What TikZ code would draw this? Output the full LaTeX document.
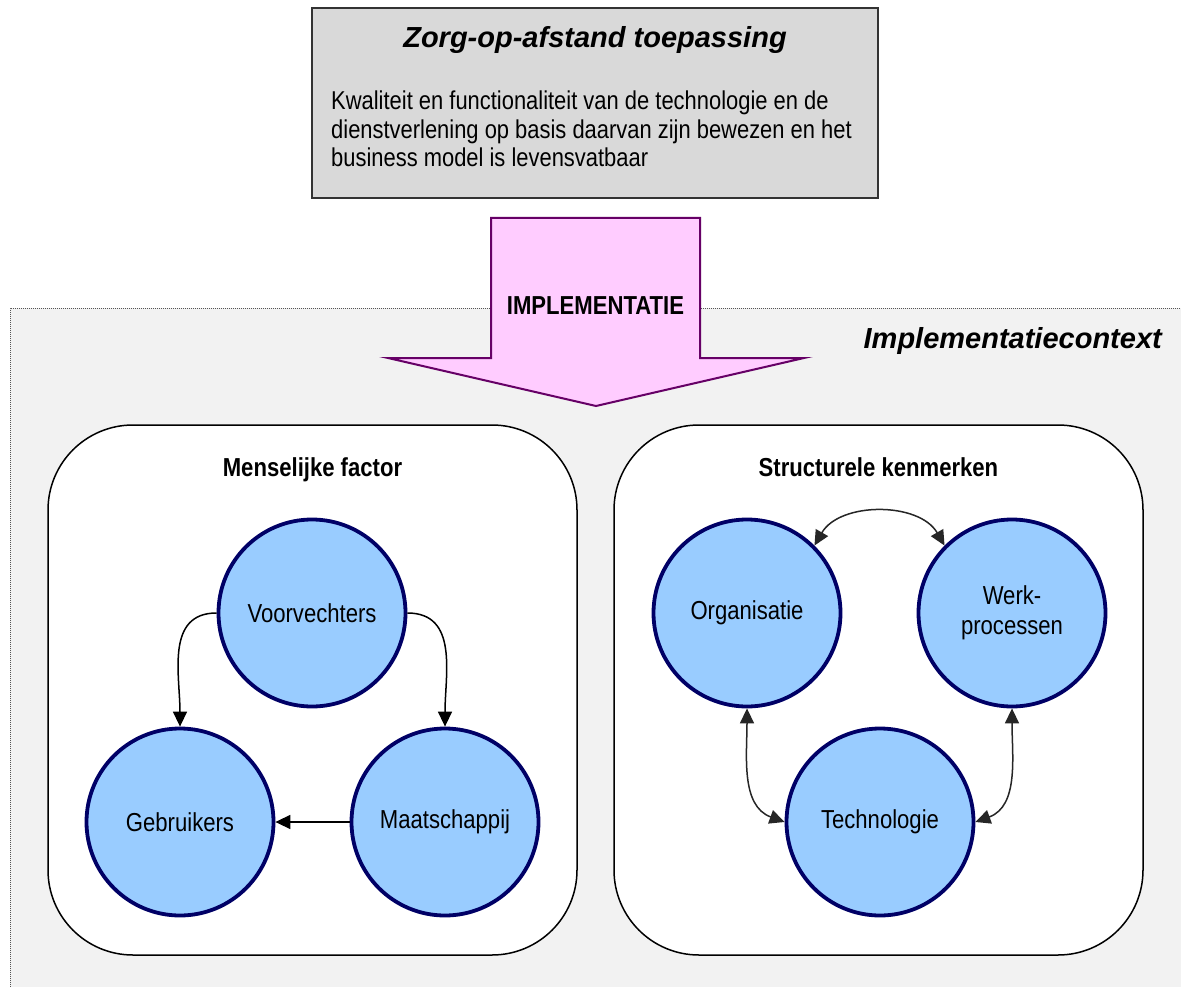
\documentclass[tikz,border=0pt]{standalone}
\usepackage{fontspec}
\setmainfont{Liberation Sans}
\newfontfamily\narrowsans[FakeStretch=0.85]{Liberation Sans}
\usetikzlibrary{arrows.meta}

\definecolor{ctxgray}{HTML}{F2F2F2}
\definecolor{ctxline}{HTML}{555555}
\definecolor{appgray}{HTML}{D9D9D9}
\definecolor{appborder}{HTML}{333333}
\definecolor{pinkfill}{HTML}{FFCCFF}
\definecolor{purpleline}{HTML}{660066}
\definecolor{circfill}{HTML}{99CCFF}
\definecolor{circline}{HTML}{000066}

\tikzset{
  tip/.tip={Triangle[length=15pt,width=14pt]},
  appbox/.style={draw=appborder, line width=2pt, fill=appgray, inner sep=0pt},
  titletext/.style={font=\bfseries\itshape\fontsize{29}{32}\selectfont, inner sep=0pt},
  bodytext/.style={font=\narrowsans\fontsize{25.8}{28.5}\selectfont, align=left, inner sep=0pt},
  implarrow/.style={draw=purpleline, line width=2pt, fill=pinkfill, line join=miter},
  arrowlabel/.style={font=\narrowsans\bfseries\fontsize{26}{30}\selectfont, inner sep=0pt},
  ctxborder/.style={draw=ctxline, line width=1pt, dash pattern=on 1pt off 1pt},
  group/.style={draw=black, line width=1.5pt, fill=white, rounded corners=85pt, inner sep=0pt},
  grouplabel/.style={font=\narrowsans\bfseries\fontsize{26}{30}\selectfont, inner sep=0pt},
  factor/.style={circle, draw=circline, line width=3.8pt, fill=circfill,
    minimum size=187pt, inner sep=0pt, align=center,
    font=\narrowsans\fontsize{26}{30}\selectfont},
  conn/.style={draw=black, line width=1.5pt, -tip},
  dconn/.style={draw=black!85, line width=1.5pt, tip-tip},
}

\begin{document}
\begin{tikzpicture}[x=1pt,y=1pt]
\useasboundingbox (0,0) rectangle (1181,-987);
\fill[white] (0,0) rectangle (1181,-987);

% implementation context area
\fill[ctxgray] (10,-308) rectangle (1181,-987);
\draw[ctxborder] (10,-987) -- (10,-308) -- (1181,-308);
\node[titletext, anchor=base east] (ctxlbl) at (1162,-348) {Implementatiecontext};

% application box
\node[appbox, minimum width=566pt, minimum height=190pt] (app) at (595,-103) {};
\node[titletext, anchor=base] (apptitle) at (595,-48) {Zorg-op-afstand toepassing};
\node[bodytext, anchor=base west] (appbody) at (331,-167)
  {Kwaliteit en functionaliteit van de technologie en de\\
   dienstverlening op basis daarvan zijn bewezen en het\\
   business model is levensvatbaar};

% implementation arrow
\draw[implarrow] (491,-218) -- (700,-218) -- (700,-358) -- (804,-358)
  -- (596,-406) -- (388,-358) -- (491,-358) -- cycle;
\node[arrowlabel, anchor=base] (impl) at (595.5,-314) {IMPLEMENTATIE};

% the two groups
\node[group, minimum width=529pt, minimum height=530pt] (human) at (312.5,-690) {};
\node[group, minimum width=529pt, minimum height=530pt] (struct) at (878.5,-690) {};
\node[grouplabel, anchor=base] (humanlbl) at (312.5,-476) {Menselijke factor};
\node[grouplabel, anchor=base] (structlbl) at (878.5,-476) {Structurele kenmerken};

% human factors
\node[factor] (voor) at (312,-613) {Voorvechters};
\node[factor] (gebr) at (180,-822) {Gebruikers};
\node[factor] (maat) at (445,-822) {Maatschappij};

% structural characteristics
\node[factor] (org) at (747,-613) {Organisatie};
\node[factor] (werk) at (1012,-613) {Werk-\\processen};
\node[factor] (tech) at (880,-822) {Technologie};

% connectors
\draw[conn] (voor.west) to[out=180,in=90,looseness=1.1] (gebr.north);
\draw[conn] (voor.east) to[out=0,in=90,looseness=1.1] (maat.north);
\draw[conn] (maat.west) -- (gebr.east);

\draw[dconn] (org.45) to[out=60,in=120] (werk.135);
\draw[dconn] (org.south) to[out=-90,in=160] (tech.west);
\draw[dconn] (werk.south) to[out=-90,in=20] (tech.east);
\end{tikzpicture}
\end{document}
